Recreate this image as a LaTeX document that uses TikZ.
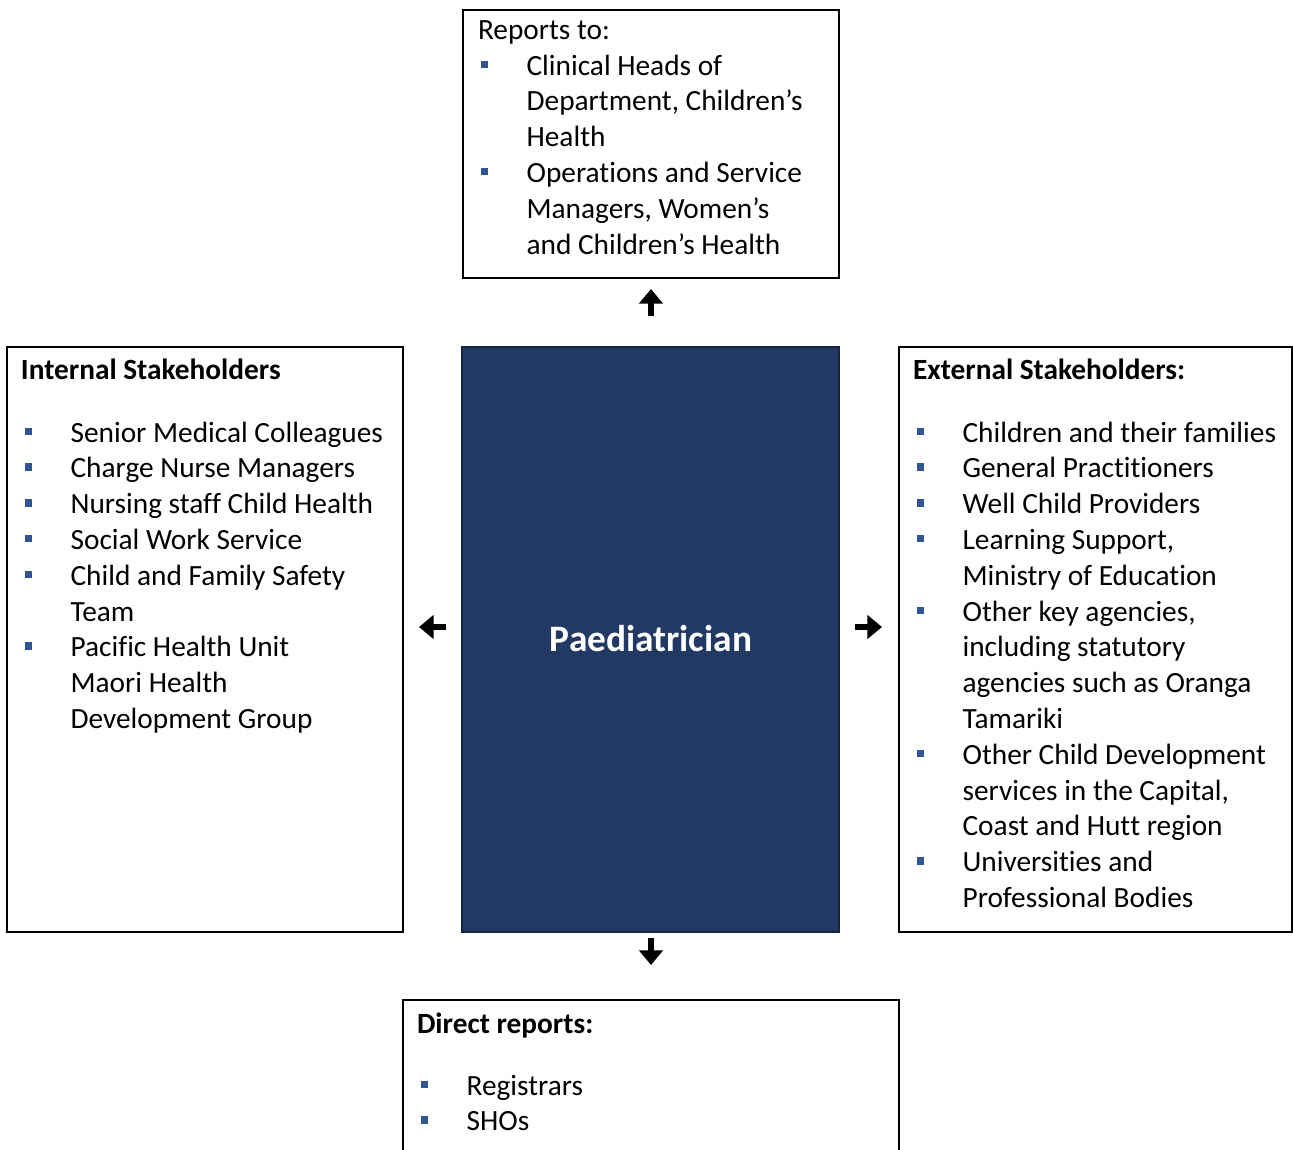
\documentclass[tikz,border=0pt]{standalone}
\usepackage{fontspec}
\setmainfont{Carlito}[Ligatures={NoCommon,NoRequired,NoContextual},Contextuals=NoAlternate]
\usetikzlibrary{arrows.meta,fit}
\definecolor{navy}{RGB}{33,57,99}
\definecolor{navyedge}{RGB}{22,36,66}
\definecolor{bul}{RGB}{47,85,151}
\newcommand\blt{\textcolor{bul}{\rule[5.25pt]{5.6pt}{5.6pt}}}
\newcommand\itm{\makebox[34.2pt][l]{\blt}}
\newcommand\cnt{\hspace*{34.2pt}}
\newcommand\nlg{\kern0pt }
\begin{document}
\begin{tikzpicture}[x=0.75pt,y=-0.75pt,
  box/.style={draw=black,line width=1.5pt,inner sep=0pt,outer sep=0pt},
  txt/.style={inner sep=0pt,outer sep=0pt,anchor=base west,font=\fontsize{22}{26.85}\selectfont},
  hdr/.style={inner sep=0pt,outer sep=0pt,anchor=base west,font=\fontsize{22}{26.85}\selectfont\bfseries},
  bigarrow/.style={line width=4.6pt,-{Triangle[length=11pt,width=17.5pt]}}]
\path[use as bounding box, clip] (0,0) rectangle (1293,1150);
\fill[white] (0,0) rectangle (1293,1150);

% boxes
\node[box, fit={(463,10) (839,278)}] (top) {};
\node[box, fit={(7,347) (403,932)}] (int) {};
\node[box, fill=navy, draw=navyedge, fit={(462,347) (839,932)}] (ctr) {};
\node[box, fit={(899,347) (1292,932)}] (ext) {};
\node[box, fit={(403,1000) (899,1180)}] (bot) {};

% centre title
\node[inner sep=0pt, anchor=base, text=white, font=\fontsize{28}{33}\selectfont\bfseries] (title) at (651,651) {Paediatrician};

% top box
\node[txt] (toph) at (478,39) {Reports to:};
\node[txt] (topl) at (481,75) {\begin{tabular}[t]{@{}l@{}}
\itm Clinical Heads of\\
\cnt Department, Children’s\\
\cnt Health\\
\itm Operat\nlg ions and Service\\
\cnt Managers, Women’s\\
\cnt and Children’s Health
\end{tabular}};

% internal
\node[hdr] (inth) at (21,379) {Internal Stakeholders};
\node[txt] (intl) at (25,442) {\begin{tabular}[t]{@{}l@{}}
\itm Senior Medical Colleagues\\
\itm Charge Nurse Managers\\
\itm Nursing staf\nlg f Child Health\\
\itm Social Work Service\\
\itm Child and Family Safety\\
\cnt Team\\
\itm Pacif\nlg ic Health Unit\\
\cnt Maori Health\\
\cnt Development Group
\end{tabular}};

% external
\node[hdr] (exth) at (913,379) {External Stakeholders:};
\node[txt] (extl) at (917,442) {\begin{tabular}[t]{@{}l@{}}
\itm Children and their families\\
\itm General Pract\nlg it\nlg ioners\\
\itm Well Child Providers\\
\itm Learning Support,\\
\cnt Ministry of Educat\nlg ion\\
\itm Other key agencies,\\
\cnt including statutory\\
\cnt agencies such as Oranga\\
\cnt Tamariki\\
\itm Other Child Development\\
\cnt services in the Capital,\\
\cnt Coast and Hut\nlg t region\\
\itm Universit\nlg ies and\\
\cnt Professional Bodies
\end{tabular}};

% bottom
\node[hdr] (both) at (417,1033) {Direct reports:};
\node[txt] (botl) at (421,1095) {\begin{tabular}[t]{@{}l@{}}
\itm Registrars\\
\itm SHOs
\end{tabular}};

% arrows
\coordinate (uA) at (651,316); \coordinate (uB) at (651,289);
\coordinate (lA) at (446,627); \coordinate (lB) at (419,627);
\coordinate (rA) at (855,627); \coordinate (rB) at (882,627);
\coordinate (dA) at (651,938); \coordinate (dB) at (651,965);
\draw[bigarrow] (uA) -- (uB);
\draw[bigarrow] (lA) -- (lB);
\draw[bigarrow] (rA) -- (rB);
\draw[bigarrow] (dA) -- (dB);
\end{tikzpicture}
\end{document}
